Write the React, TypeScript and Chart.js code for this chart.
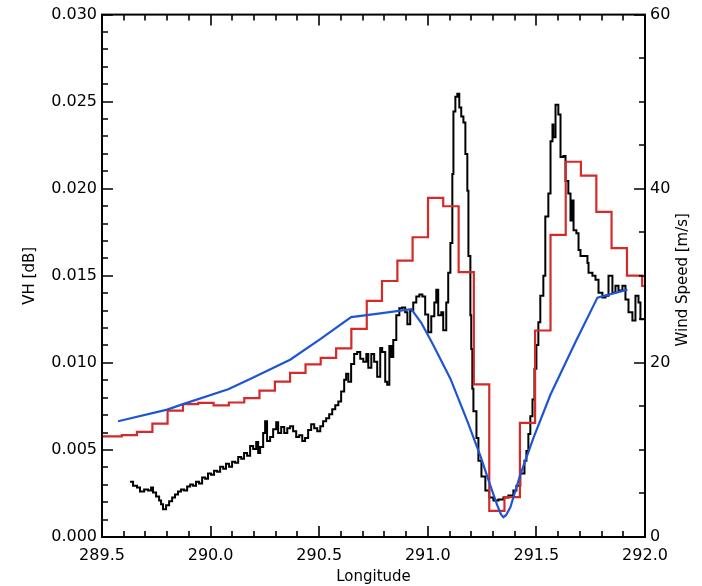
import React, { useEffect, useRef } from "react";
import { Chart, registerables } from "chart.js";

Chart.register(...registerables);

// ---- Data ----
const blackLon = [
  289.629, 289.643, 289.661, 289.675, 289.694, 289.712, 289.726, 289.735, 289.749, 289.763,
  289.772, 289.781, 289.795, 289.809, 289.823, 289.836, 289.85, 289.864, 289.878, 289.892,
  289.906, 289.919, 289.933, 289.947, 289.961, 289.975, 289.988, 290.002, 290.016, 290.03,
  290.044, 290.058, 290.071, 290.085, 290.099, 290.113, 290.127, 290.141, 290.154, 290.168,
  290.182, 290.196, 290.21, 290.219, 290.228, 290.242, 290.251, 290.26, 290.274, 290.288,
  290.302, 290.311, 290.325, 290.339, 290.353, 290.366, 290.38, 290.394, 290.408, 290.422,
  290.435, 290.449, 290.463, 290.477, 290.491, 290.505, 290.518, 290.532, 290.546, 290.56,
  290.574, 290.588, 290.601, 290.615, 290.624, 290.634, 290.647, 290.661, 290.675, 290.689,
  290.703, 290.717, 290.726, 290.74, 290.753, 290.767, 290.781, 290.79, 290.804, 290.813,
  290.823, 290.832, 290.841, 290.855, 290.869, 290.882, 290.896, 290.906, 290.919, 290.933,
  290.947, 290.961, 290.975, 290.988, 291.002, 291.016, 291.03, 291.039, 291.048, 291.062,
  291.071, 291.085, 291.094, 291.104, 291.113, 291.118, 291.127, 291.136, 291.145, 291.154,
  291.164, 291.173, 291.182, 291.187, 291.196, 291.2, 291.205, 291.21, 291.224, 291.233,
  291.247, 291.265, 291.283, 291.302, 291.325, 291.348, 291.371, 291.394, 291.408, 291.426,
  291.445, 291.454, 291.463, 291.472, 291.482, 291.491, 291.5, 291.509, 291.518, 291.532,
  291.541, 291.555, 291.565, 291.574, 291.578, 291.588, 291.601, 291.611, 291.624,
  291.634, 291.647, 291.657, 291.666, 291.671, 291.684, 291.694, 291.703, 291.735,
  291.74, 291.758, 291.772, 291.786, 291.804, 291.818, 291.832, 291.85, 291.864, 291.878,
  291.896, 291.91, 291.924, 291.942, 291.956, 291.97, 291.979, 292.0,
];
const blackVH = [
  0.00318, 0.00295, 0.00284, 0.00261, 0.00273, 0.00267, 0.00284, 0.00256, 0.00233, 0.0021,
  0.00188, 0.00159, 0.00182, 0.00205, 0.00227, 0.00244, 0.00261, 0.00273, 0.00267, 0.0029,
  0.00301, 0.00295, 0.00318, 0.00307, 0.00341, 0.00335, 0.00364, 0.00358, 0.00381, 0.00375,
  0.00403, 0.00392, 0.0042, 0.00403, 0.00432, 0.00426, 0.0046, 0.00449, 0.00483, 0.00466,
  0.00523, 0.00506, 0.00545, 0.00483, 0.00517, 0.00597, 0.00665, 0.00551, 0.00574, 0.00619,
  0.00659, 0.00597, 0.00631, 0.00597, 0.00625, 0.00636, 0.00608, 0.00574, 0.00585, 0.00551,
  0.00568, 0.00614, 0.00648, 0.00625, 0.00608, 0.00636, 0.00665, 0.00682, 0.00705, 0.00733,
  0.00756, 0.00778, 0.00835, 0.00903, 0.00938, 0.00892, 0.00994, 0.01051, 0.01063, 0.01023,
  0.01006, 0.01051, 0.00972, 0.01051, 0.01006, 0.0092, 0.01085, 0.01063, 0.00892, 0.00875,
  0.01097, 0.01034, 0.01131, 0.01273, 0.01313, 0.01318, 0.0129, 0.01222, 0.01301, 0.01347,
  0.01381, 0.01392, 0.01381, 0.01278, 0.01176, 0.01267, 0.01347, 0.0142, 0.01273, 0.0129,
  0.01188, 0.01347, 0.01517, 0.01688, 0.02085, 0.02443, 0.02528, 0.02545, 0.02466, 0.02415,
  0.02381, 0.02199, 0.01989, 0.01614, 0.01273, 0.0108, 0.00852, 0.00722, 0.00568, 0.00438,
  0.00347, 0.00267, 0.00227, 0.0021, 0.00216, 0.00227, 0.00239, 0.00267, 0.00295, 0.00364,
  0.00438, 0.00494, 0.00591, 0.00693, 0.0079, 0.00966, 0.01102, 0.01233, 0.01386, 0.015,
  0.01841, 0.01972, 0.02273, 0.02369, 0.02295, 0.02483, 0.02426, 0.02182, 0.02188,
  0.02045, 0.01972, 0.01818, 0.01932, 0.01761, 0.01744, 0.01648, 0.01614, 0.01574,
  0.01517, 0.015, 0.01477, 0.01403, 0.01375, 0.01386, 0.015, 0.01403, 0.01443, 0.01415,
  0.01443, 0.01364, 0.0129, 0.01244, 0.01386, 0.01347, 0.0125, 0.0125,
];

const redLon = [
  289.5, 289.591, 289.661, 289.732, 289.802, 289.873, 289.943, 290.014, 290.084, 290.155,
  290.225, 290.296, 290.366, 290.437, 290.507, 290.578, 290.648, 290.719, 290.789, 290.86,
  290.93, 291.001, 291.071, 291.142, 291.212, 291.283, 291.353, 291.424, 291.494, 291.565,
  291.635, 291.705, 291.776, 291.846, 291.917, 291.987, 292.0,
];
const redWind = [
  11.56, 11.7, 12.08, 13.03, 14.51, 15.26, 15.4, 15.11, 15.45, 15.94,
  16.82, 17.84, 18.84, 19.83, 20.57, 21.67, 23.9, 27.13, 29.4, 31.74,
  34.43, 38.94, 37.99, 30.42, 17.53, 2.99, 4.58, 13.1, 23.72, 34.69,
  43.1, 41.51, 37.35, 33.18, 30.03, 28.83, 28.83,
];

const blueLon = [
  289.574, 289.8, 289.873, 290.081, 290.182, 290.366, 290.505, 290.647, 290.781, 290.924,
  290.97, 291.025, 291.104, 291.182, 291.242, 291.288, 291.32, 291.337, 291.348, 291.36,
  291.38, 291.426, 291.486, 291.565, 291.68, 291.781, 291.919,
];
const blueWind = [
  13.3, 14.63, 15.26, 16.97, 18.15, 20.36, 22.73, 25.26, 25.68, 26.17,
  24.6, 22.05, 18.18, 13.3, 9.32, 5.91, 3.64, 2.6, 2.27, 2.5,
  3.41, 7.16, 11.36, 16.36, 22.39, 27.5, 28.41,
];

const xTitle = "Longitude";
const yTitle = "VH [dB]";
const y2Title = "Wind Speed [m/s]";

const FONT = "'DejaVu Sans', sans-serif";

const frameTicks = {
  id: "frameTicks",
  afterDatasetsDraw(chart: any) {
    const { ctx, chartArea: a, scales } = chart;
    const xs = scales.x, ys = scales.y, y2 = scales.y2;
    ctx.save();
    ctx.strokeStyle = "#000";
    ctx.lineWidth = 1.6;
    ctx.beginPath();
    for (let i = 0; i <= 25; i++) {
      const v = xs.min + i * 0.1;
      const px = Math.round(xs.getPixelForValue(v));
      const len = i % 5 === 0 ? 11 : 6;
      ctx.moveTo(px, a.bottom); ctx.lineTo(px, a.bottom - len);
      ctx.moveTo(px, a.top); ctx.lineTo(px, a.top + len);
    }
    for (let i = 0; i <= 30; i++) {
      const v = i * 0.001;
      const py = Math.round(ys.getPixelForValue(v));
      const len = i % 5 === 0 ? 11 : 6;
      ctx.moveTo(a.left, py); ctx.lineTo(a.left + len, py);
    }
    for (let i = 0; i <= 12; i++) {
      const v = i * 5;
      const py = Math.round(y2.getPixelForValue(v));
      const len = i % 4 === 0 ? 11 : 6;
      ctx.moveTo(a.right, py); ctx.lineTo(a.right - len, py);
    }
    ctx.stroke();
    ctx.lineWidth = 2;
    ctx.strokeRect(a.left, a.top, a.right - a.left, a.bottom - a.top);
    ctx.fillStyle = "#000";
    ctx.font = "15px " + FONT;
    ctx.textAlign = "center";
    ctx.textBaseline = "middle";
    ctx.translate(683, (a.top + a.bottom) / 2 + 4);
    ctx.rotate(-Math.PI / 2);
    ctx.fillText(y2Title, 0, 0);
    ctx.restore();
  },
};

export default function App() {
  const ref = useRef<HTMLCanvasElement | null>(null);
  useEffect(() => {
    if (!ref.current) return;
    Chart.defaults.font.family = FONT;
    Chart.defaults.color = "#000";
    const chart = new Chart(ref.current, {
      type: "line",
      data: {
        datasets: [
          {
            label: "wind model",
            data: blueLon.map((x, i) => ({ x, y: blueWind[i] })),
            yAxisID: "y2",
            borderColor: "#1f55d4",
            borderWidth: 2.2,
            pointRadius: 0,
            tension: 0,
          },
          {
            label: "wind retrieved",
            data: redLon.map((x, i) => ({ x, y: redWind[i] })),
            yAxisID: "y2",
            borderColor: "#d42a2a",
            borderWidth: 2.2,
            pointRadius: 0,
            stepped: "before",
          },
          {
            label: "VH",
            data: blackLon.map((x, i) => ({ x, y: blackVH[i] })),
            yAxisID: "y",
            borderColor: "#000",
            borderWidth: 2,
            pointRadius: 0,
            stepped: "before",
          },
        ],
      },
      options: {
        animation: false,
        responsive: false,
        events: [],
        layout: { padding: { top: 10, left: 0, right: 0, bottom: 0 } },
        plugins: { legend: { display: false }, tooltip: { enabled: false } },
        scales: {
          x: {
            type: "linear",
            min: 289.5,
            max: 292.0,
            grid: { display: false, drawTicks: false },
            border: { display: false },
            ticks: {
              stepSize: 0.5,
              padding: 9,
              font: { size: 16 },
              callback: (v: any) => Number(v).toFixed(1),
            },
            title: { display: true, text: xTitle, font: { size: 15 }, padding: { top: 0, bottom: 0 } },
            afterFit: (s: any) => { s.height = 49; },
          },
          y: {
            type: "linear",
            position: "left",
            min: 0,
            max: 0.03,
            grid: { display: false, drawTicks: false },
            border: { display: false },
            ticks: {
              stepSize: 0.005,
              padding: 5,
              font: { size: 16 },
              callback: (v: any) => Number(v).toFixed(3),
            },
            title: { display: true, text: yTitle, font: { size: 15 }, padding: { top: 21, bottom: 0 } },
            afterFit: (s: any) => { s.width = 102; },
          },
          y2: {
            type: "linear",
            position: "right",
            min: 0,
            max: 60,
            grid: { display: false, drawTicks: false },
            border: { display: false },
            ticks: {
              stepSize: 20,
              padding: 5,
              font: { size: 16 },
              callback: (v: any) => String(Math.round(Number(v))),
            },
            afterFit: (s: any) => { s.width = 57; },
          },
        },
      },
      plugins: [frameTicks],
    } as any);
    return () => chart.destroy();
  }, []);
  return (
    <div style={{ position: "absolute", left: 0, top: 0, width: 702, height: 586, background: "#fff" }}>
      <canvas ref={ref} width={702} height={586} style={{ display: "block" }} />
    </div>
  );
}
